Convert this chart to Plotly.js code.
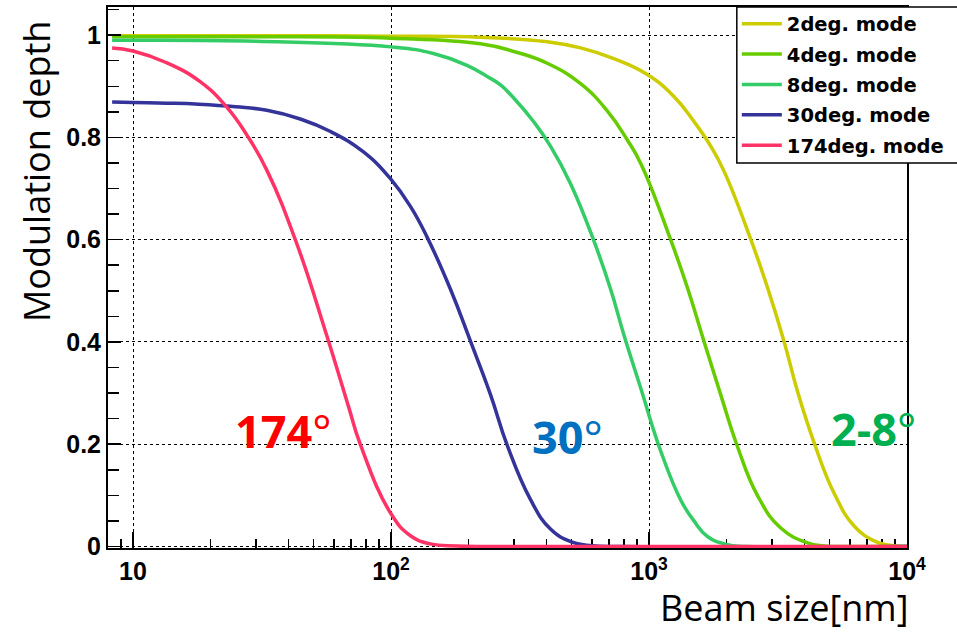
<!DOCTYPE html>
<html>
<head>
<meta charset="utf-8">
<script src="https://cdn.plot.ly/plotly-3.0.1.min.js"></script>
<style>
  html, body { margin: 0; padding: 0; background: #ffffff; }
  #chart { width: 957px; height: 633px; }
</style>
</head>
<body>
<div id="chart"></div>
<script>
// ---- data (beam size in nm, modulation depth) ----
const seriesNames = ['2deg. mode', '4deg. mode', '8deg. mode', '30deg. mode', '174deg. mode'];
const seriesColors = ['#cccc00', '#66cc00', '#33cc66', '#333399', '#ff3366'];

const x2deg = [8.3, 10, 30, 100, 222, 403, 543, 731, 985, 1249, 1494, 1734, 1953, 2478, 2877, 3338, 3760, 4364, 5218, 6238, 7457, 8404, 10000];
const y2deg = [0.999, 0.999, 0.999, 0.998, 0.996, 0.987, 0.975, 0.954, 0.923, 0.880, 0.831, 0.783, 0.734, 0.601, 0.507, 0.401, 0.304, 0.203, 0.104, 0.040, 0.011, 0.003, 0.0];

const x4deg = [8.3, 10, 30, 100, 222, 299, 403, 543, 689, 824, 931, 1213, 1407, 1634, 1896, 2200, 2631, 3241, 4114, 4764, 6000, 10000];
const y4deg = [0.997, 0.997, 0.997, 0.994, 0.983, 0.968, 0.945, 0.905, 0.852, 0.795, 0.748, 0.600, 0.507, 0.401, 0.297, 0.196, 0.100, 0.036, 0.007, 0.001, 0.0, 0.0];

const x8deg = [8.3, 10, 30, 100, 146, 197, 236, 265, 299, 358, 415, 497, 611, 710, 799, 931, 1113, 1330, 1494, 1689, 1996, 2400, 10000];
const y8deg = [0.990, 0.990, 0.988, 0.977, 0.964, 0.941, 0.919, 0.903, 0.877, 0.830, 0.783, 0.709, 0.598, 0.503, 0.414, 0.308, 0.185, 0.090, 0.050, 0.019, 0.004, 0.0, 0.0];

const x30deg = [8.3, 10, 13.5, 18, 25, 33, 44.5, 58, 78, 100, 118.9, 138, 170, 203, 243, 282, 347, 415, 500, 600, 800, 10000];
const y30deg = [0.869, 0.868, 0.867, 0.865, 0.860, 0.853, 0.836, 0.812, 0.772, 0.718, 0.665, 0.605, 0.503, 0.402, 0.297, 0.198, 0.092, 0.034, 0.009, 0.0015, 0.0, 0.0];

const x174deg = [8.3, 10, 13.5, 18.2, 23, 27.6, 33, 43, 56.4, 68.5, 76, 100, 119, 142, 180, 250, 10000];
const y174deg = [0.975, 0.969, 0.946, 0.909, 0.860, 0.805, 0.736, 0.594, 0.412, 0.273, 0.200, 0.064, 0.021, 0.005, 0.001, 0.0, 0.0];

const xTickVals = [10, 100, 1000, 10000];
const xTickText = ['10', '10<sup>2</sup>', '10<sup>3</sup>', '10<sup>4</sup>'];
const yTickVals = [0, 0.2, 0.4, 0.6, 0.8, 1];
const yTickText = ['0', '0.2', '0.4', '0.6', '0.8', '1'];

const labelTexts = ['174', '30', '2-8'];
const labelColors = ['#ff0000', '#0070c0', '#00b050'];
const labelX = [24.4, 347, 4977];   // beam size at left edge of each label
const labelY = [0.226, 0.216, 0.230];

// ---- build ----
const xs = [x2deg, x4deg, x8deg, x30deg, x174deg];
const ys = [y2deg, y4deg, y8deg, y30deg, y174deg];
const traces = seriesNames.map((name, i) => ({
  type: 'scatter', mode: 'lines', name: name, legendgroup: 'g' + i,
  x: xs[i], y: ys[i],
  line: { color: seriesColors[i], width: 3.5, shape: 'spline', smoothing: 1.3 },
  hoverinfo: 'skip'
}));

const minorX = [];
for (let e = 0; e <= 3; e++) {
  for (let m = 2; m <= 9; m++) {
    const v = m * Math.pow(10, e);
    if (v >= 8 && v < 10000) minorX.push(v);
  }
}

const tickFont = { family: 'Liberation Sans, Arial, sans-serif', size: 25, color: '#000', weight: 'bold' };

const annotations = labelTexts.map((t, i) => ({
  xref: 'x', yref: 'y', x: Math.log10(labelX[i]), y: labelY[i],
  xanchor: 'left', yanchor: 'middle', showarrow: false,
  text: t + '<span style="font-weight:normal">°</span>',
  font: { family: 'Open Sans, sans-serif', size: 45, color: labelColors[i], weight: 'bold' }
}));
annotations.push({
  xref: 'paper', yref: 'paper', x: -0.090, y: 0.695, textangle: -90,
  xanchor: 'center', yanchor: 'middle', showarrow: false,
  text: 'Modulation depth',
  font: { family: 'Open Sans, sans-serif', size: 36, color: '#000' }
});
annotations.push({
  xref: 'paper', yref: 'paper', x: 1.004, y: -0.110,
  xanchor: 'right', yanchor: 'middle', showarrow: false,
  text: 'Beam size[nm]',
  font: { family: 'Open Sans, sans-serif', size: 36, color: '#000' }
});

// legend frame (paper coords of the plot area: x 108..907 px, y 548..7 px)
const shapes = [{
  type: 'rect', xref: 'paper', yref: 'paper', layer: 'above',
  x0: 0.787, x1: 1.07, y0: 0.7116, y1: 1.0,
  fillcolor: '#ffffff', line: { color: '#000000', width: 1.5 }
}];

const layout = {
  width: 957, height: 633,
  margin: { l: 108, r: 50, t: 7, b: 85, autoexpand: false },
  paper_bgcolor: '#ffffff', plot_bgcolor: '#ffffff',
  showlegend: true,
  legend: {
    x: 0.787, y: 1.0045, xanchor: 'left', yanchor: 'top',
    bgcolor: 'rgba(0,0,0,0)', borderwidth: 0,
    font: { family: 'DejaVu Sans, sans-serif', size: 19.5, color: '#000', weight: 'bold' },
    traceorder: 'grouped', tracegroupgap: 2,
    itemwidth: 40
  },
  xaxis: {
    type: 'log', range: [Math.log10(8), 4],
    tickmode: 'array', tickvals: xTickVals, ticktext: xTickText,
    ticks: 'inside', ticklen: 16, tickwidth: 1.5, tickcolor: '#000',
    showline: true, linecolor: '#000', linewidth: 2, mirror: true,
    showgrid: true, gridcolor: '#000', griddash: 'dot', gridwidth: 1,
    zeroline: false, tickfont: tickFont, layer: 'below traces',
    minor: { tickmode: 'array', tickvals: minorX, ticks: 'inside', ticklen: 9, tickwidth: 1.5, tickcolor: '#000', showgrid: false }
  },
  yaxis: {
    range: [-0.003, 1.055],
    tickmode: 'array', tickvals: yTickVals, ticktext: yTickText,
    ticks: 'inside', ticklen: 13, tickwidth: 1.5, tickcolor: '#000',
    showline: true, linecolor: '#000', linewidth: 2, mirror: true,
    showgrid: true, gridcolor: '#000', griddash: 'dot', gridwidth: 1,
    zeroline: false, tickfont: tickFont,
    minor: { dtick: 0.05, tick0: 0, ticks: 'inside', ticklen: 11, tickwidth: 1.5, tickcolor: '#000', showgrid: false }
  },
  shapes: shapes,
  annotations: annotations
};

Plotly.newPlot('chart', traces, layout, { displayModeBar: false, staticPlot: true });
</script>
</body>
</html>
